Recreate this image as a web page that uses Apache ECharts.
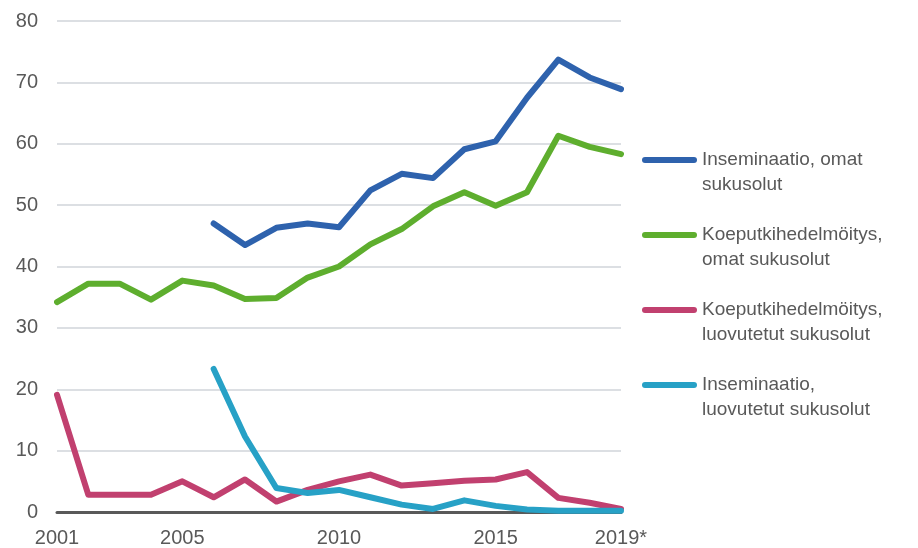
<!DOCTYPE html>
<html><head><meta charset="utf-8">
<script src="https://cdn.jsdelivr.net/npm/echarts@6/dist/echarts.min.js"></script>
<style>html,body{margin:0;padding:0;background:#fff}#c{width:918px;height:548px}</style>
</head><body><div id="c"></div>
<script>
const years = ['2001','2002','2003','2004','2005','2006','2007','2008','2009','2010','2011','2012','2013','2014','2015','2016','2017','2018','2019*'];
const labelIdx = [0,4,9,14,18];
const inseminOmat = [null,null,null,null,null,47.0,43.5,46.3,47.0,46.4,52.4,55.1,54.4,59.1,60.4,67.5,73.7,70.8,68.9];
const koeputkiOmat = [34.2,37.2,37.2,34.6,37.7,36.9,34.7,34.85,38.2,40.0,43.6,46.1,49.8,52.1,49.9,52.1,61.3,59.5,58.3];
const koeputkiLuov = [19.1,2.8,2.8,2.8,5.0,2.4,5.3,1.7,3.6,5.0,6.1,4.3,4.7,5.1,5.3,6.5,2.3,1.5,0.5];
const inseminLuov = [null,null,null,null,null,23.3,12.3,3.9,3.1,3.6,2.4,1.2,0.5,1.9,1.0,0.4,0.2,0.2,0.2];
const names = ['Inseminaatio, omat sukusolut','Koeputkihedelmöitys, omat sukusolut','Koeputkihedelmöitys, luovutetut sukusolut','Inseminaatio, luovutetut sukusolut'];
const legendText = {
 'Inseminaatio, omat sukusolut':'Inseminaatio, omat\nsukusolut',
 'Koeputkihedelmöitys, omat sukusolut':'Koeputkihedelmöitys,\nomat sukusolut',
 'Koeputkihedelmöitys, luovutetut sukusolut':'Koeputkihedelmöitys,\nluovutetut sukusolut',
 'Inseminaatio, luovutetut sukusolut':'Inseminaatio,\nluovutetut sukusolut'
};
const colors = ['#2e62ad','#5eae2e','#c1406f','#27a1c6'];
const dataSets = [inseminOmat, koeputkiOmat, koeputkiLuov, inseminLuov];
const font = '"Liberation Sans", Arial, sans-serif';
const chart = echarts.init(document.getElementById('c'));
chart.setOption({
  animation:false,
  grid:{left:57,right:297,top:21,bottom:36,containLabel:false},
  xAxis:{type:'category',data:years,boundaryGap:false,
    axisLine:{show:true,lineStyle:{color:'#595959',width:3}},
    axisTick:{show:false},
    axisLabel:{interval:(i)=>labelIdx.includes(i),color:'#595959',fontSize:20,fontFamily:font,margin:16,showMaxLabel:true,showMinLabel:true}},
  yAxis:{type:'value',min:0,max:80,interval:10,
    axisLine:{show:false},axisTick:{show:false},
    splitLine:{lineStyle:{color:'#dcdfe3',width:2}},
    axisLabel:{color:'#595959',fontSize:20,fontFamily:font,margin:19}},
  legend:{orient:'vertical',left:642,top:122.5,padding:0,itemGap:0,
    itemWidth:55,itemHeight:6,
    icon:'path://M3,0 L52,0 A3,3 0 0 1 52,6 L3,6 A3,3 0 0 1 3,0 Z',
    formatter:(n)=>'\n'+legendText[n],
    textStyle:{color:'#595959',fontSize:19,fontFamily:font,lineHeight:25},
    data:names},
  series:dataSets.map((d,i)=>({name:names[i],type:'line',data:d,color:colors[i],
    showSymbol:false,symbol:'none',connectNulls:false,
    lineStyle:{width:6,color:colors[i],cap:'round',join:'round'}}))
});
</script></body></html>
